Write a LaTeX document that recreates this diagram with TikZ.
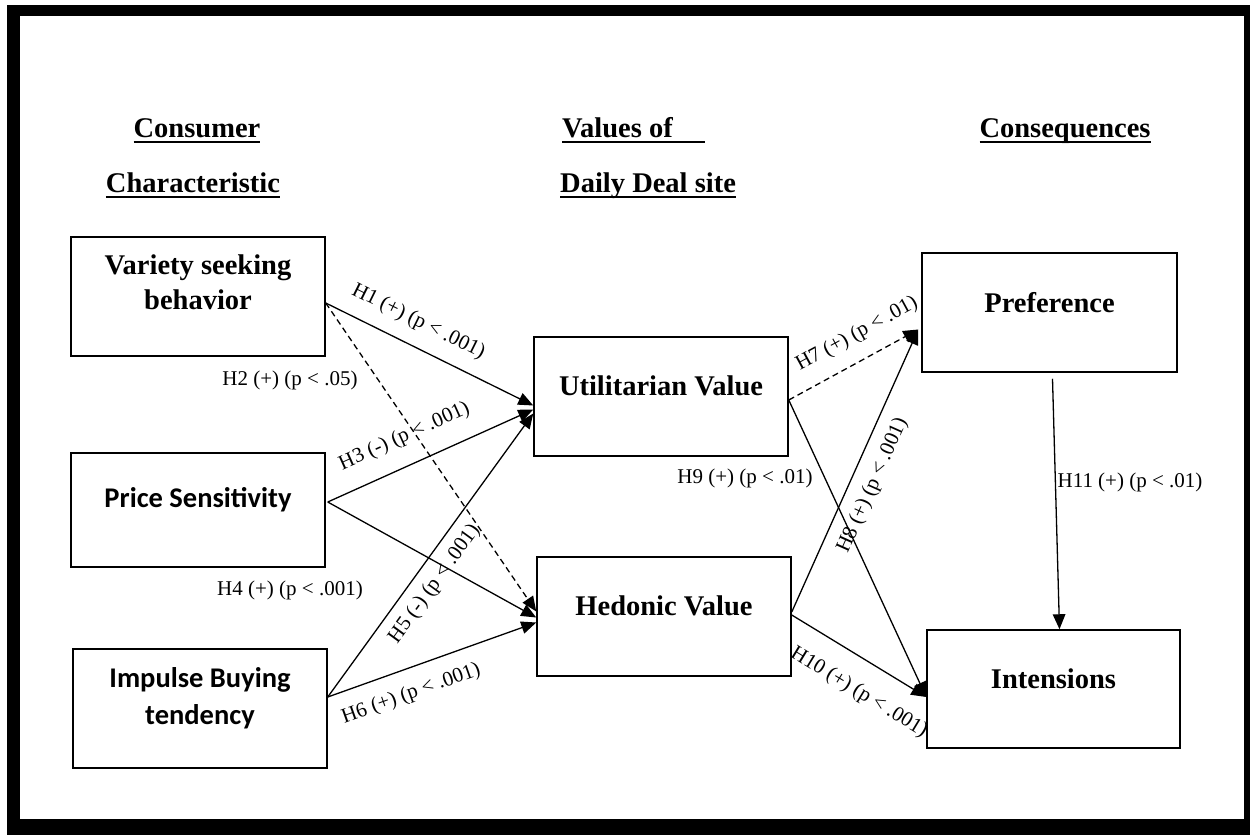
\documentclass[tikz,border=0pt]{standalone}
\usepackage{fontspec}
\setmainfont{Liberation Serif}
\newfontfamily\calfont{Carlito}
\usetikzlibrary{arrows.meta,calc}
\newcommand\hdrul[2][0pt]{\setbox0\hbox{#2}\rlap{\rule[-6pt]{\dimexpr\wd0+#1\relax}{2pt}}\box0}
\begin{document}
\begin{tikzpicture}[x=1pt,y=-1pt,
 box/.style={draw, line width=1.5pt, minimum width=254pt, minimum height=119pt, inner sep=0pt},
 ttl/.style={font=\bfseries\fontsize{28.5}{35}\selectfont, align=center, inner sep=0pt},
 sans/.style={font=\calfont\bfseries\fontsize{28.5}{37}\selectfont, align=center, inner sep=0pt},
 hdr/.style={font=\bfseries\fontsize{28.5}{34}\selectfont, inner sep=0pt, anchor=base},
 lab/.style={font=\fontsize{21}{24}\selectfont, inner sep=0pt},
 arr/.style={line width=1.3pt, -{Triangle[length=15pt,width=12.5pt]}},
 dsh/.style={arr, dash pattern=on 6pt off 4pt},
]
\useasboundingbox (0,0) rectangle (1250,835);
\fill[black] (7,5) rectangle (1250,835);
\fill[white] (20,16) rectangle (1244,819);

% headers
\node[hdr] (h1a) at (197,137) {\hdrul{Consumer}};
\node[hdr] (h1b) at (193,192) {\hdrul{Characteristic}};
\node[hdr, anchor=base west] (h2a) at (562,137) {\hdrul[32pt]{Values of}};
\node[hdr, anchor=base west] (h2b) at (560,192) {\hdrul{Daily Deal site}};
\node[hdr] (h3a) at (1065,137) {\hdrul{Consequences}};

% boxes
\node[box, label={[ttl,yshift=14pt]center:Variety seeking\\behavior}] (vs) at (198,296.5) {};
\node[box, minimum height=114pt, label={[sans,yshift=10pt]center:Price Sensitivity}] (ps) at (198,510) {};
\node[box, label={[sans,yshift=10pt]center:Impulse Buying\\tendency}] (ib) at (200,708.5) {};
\node[box, label={[ttl,yshift=11pt]center:Utilitarian Value}] (ut) at (661,396.5) {};
\node[box, label={[ttl,yshift=11pt]center:Hedonic Value}] (he) at (664,616.5) {};
\node[box, minimum width=255pt, label={[ttl,yshift=9.5pt]center:Preference}] (pr) at (1049.5,312.5) {};
\node[box, minimum width=253pt, minimum height=118pt, label={[ttl,yshift=10pt]center:Intensions}] (in) at (1053.5,689) {};

% connectors
\draw[arr] ($(vs.east)+(0,6.5)$) -- node[lab,sloped,pos=0.395,above=14pt] {H1 (+) (p < .001)} ($(ut.west)+(0,9)$);
\draw[dsh] ($(vs.east)+(0,6.5)$) -- ($(he.west)+(0,-5)$);
\node[lab] (l2) at (290,380) {H2 (+) (p < .05)};
\draw[arr] ($(ps.east)+(2,-8)$) -- node[lab,sloped,pos=0.43,above=18pt] {H3 (-) (p < .001)} ($(ut.west)+(0,13)$);
\draw[arr] ($(ps.east)+(2,-8)$) -- ($(he.west)+(0,1)$);
\node[lab] (l4) at (290,590) {H4 (+) (p < .001)};
\draw[arr] ($(ib.east)+(0,-11.5)$) -- node[lab,sloped,pos=0.44,below=10pt] {H5 (-) (p < .001)} ($(ut.west)+(0,17)$);
\draw[arr] ($(ib.east)+(0,-11.5)$) -- node[lab,sloped,pos=0.36,below=15pt] {H6 (+) (p < .001)} ($(he.west)+(0,6)$);
\draw[dsh] ($(ut.east)+(0,3.5)$) -- node[lab,sloped,pos=0.62,above=15pt] {H7 (+) (p < .01)} ($(pr.west)+(-3,17)$);
\draw[arr] ($(he.east)+(0,-4.5)$) -- node[lab,sloped,pos=0.48,below=12pt] {H8 (+) (p < .001)} ($(pr.west)+(-3,17)$);
\draw[arr] ($(ut.east)+(0,3.5)$) -- ($(in.west)+(0,8)$);
\node[lab] (l9) at (745,478) {H9 (+) (p < .01)};
\draw[arr] ($(he.east)+(0,-1.5)$) -- node[lab,sloped,pos=0.62,below=21pt] {H10 (+) (p < .001)} ($(in.west)+(0,8)$);
\draw[arr] ($(pr.south)+(3,6)$) -- ($(in.north)+(6,0)$);
\node[lab] (l11) at (1130,482) {H11 (+) (p < .01)};
\end{tikzpicture}
\end{document}
